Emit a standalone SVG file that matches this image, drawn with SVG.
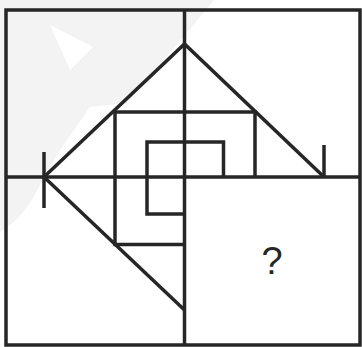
<svg xmlns="http://www.w3.org/2000/svg" width="362" height="347" viewBox="0 0 362 347">
<style>
.ln{fill:none;stroke:#262626;stroke-width:3.5;stroke-linejoin:miter}
.wm{fill:#f3f3f3;stroke:none}
.q{font-family:"Liberation Sans",Arial,sans-serif;font-size:38px;fill:#262626}
</style>
<rect width="362" height="347" fill="#ffffff"/>
<g id="watermark">
<path class="wm" d="M0,0 L214,0 L181,40 L127,103 L90,107 L60,150 L40,185 C30,205 20,220 0,232 Z"/>
<polygon points="50,25 93,47 70,70" fill="#ffffff"/>
</g>
<g id="frame">
<rect class="ln" x="6" y="10" width="354" height="335"/>
<line class="ln" x1="184.5" y1="10" x2="184.5" y2="345"/>
<line class="ln" x1="6" y1="177" x2="360" y2="177"/>
</g>
<g id="connectors">
<polyline class="ln" points="324,177 184.5,44 44,177 184.5,310"/>
<line class="ln" x1="44" y1="152" x2="44" y2="208"/>
<line class="ln" x1="324" y1="145" x2="324" y2="178"/>
</g>
<g id="outer-spiral">
<polyline class="ln" points="184.5,244.5 115,244.5 115,112 255,112 255,178"/>
</g>
<g id="inner-spiral">
<polyline class="ln" points="184.5,214 147,214 147,142 223.5,142 223.5,178"/>
</g>
<g id="question">
<text class="q" x="272" y="274" text-anchor="middle">?</text>
</g>
</svg>
